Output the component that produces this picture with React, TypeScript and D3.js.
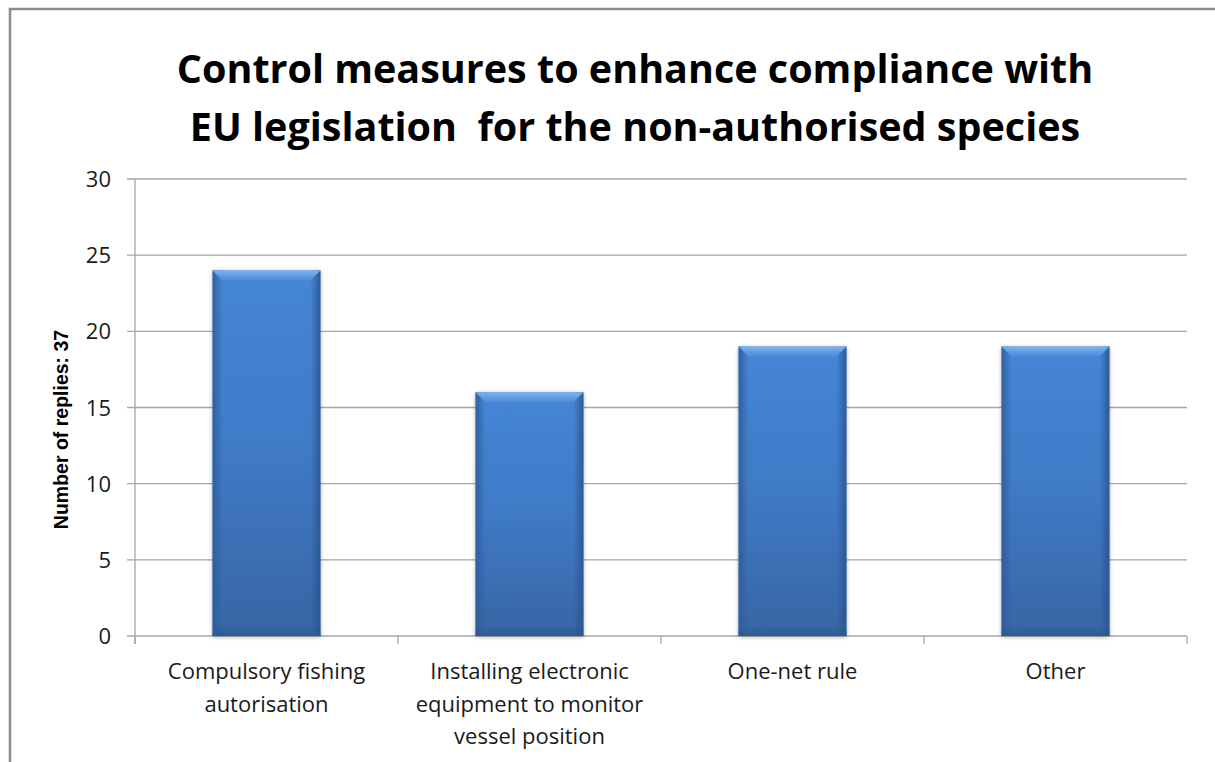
import React from "react";
import * as d3 from "d3";

const categories: string[][] = [
  ["Compulsory fishing", "autorisation"],
  ["Installing electronic", "equipment to monitor", "vessel position"],
  ["One-net rule"],
  ["Other"],
];
const values: number[] = [24, 16, 19, 19];
const yTicks: number[] = [0, 5, 10, 15, 20, 25, 30];
const titleLines: string[] = [
  "Control measures to enhance compliance with",
  "EU legislation  for the non-authorised species",
];
const yLabel = "Number of replies: 37";

const W = 1215;
const H = 762;
const plot = { left: 135, right: 1187, top: 179, bottom: 636 };
const FONT = "'Open Sans', 'Noto Sans', sans-serif";

export default function App() {
  const x = d3
    .scaleBand<number>()
    .domain(d3.range(values.length))
    .range([plot.left, plot.right])
    .paddingInner(0)
    .paddingOuter(0);
  const y = d3.scaleLinear().domain([0, 30]).range([plot.bottom, plot.top]);
  const barW = x.bandwidth() * 0.41;
  const bev = 10;

  return (
    <svg
      width={W}
      height={H}
      style={{ position: "absolute", left: 0, top: 0, background: "#fff" }}
    >
      <defs>
        <linearGradient id="barFill" x1="0" y1="0" x2="0" y2="1">
          <stop offset="0" stopColor="#4586d6" />
          <stop offset="0.5" stopColor="#3f7ac6" />
          <stop offset="1" stopColor="#3765a4" />
        </linearGradient>
        <linearGradient id="sideL" x1="0" y1="0" x2="1" y2="0">
          <stop offset="0" stopColor="#2f5c98" stopOpacity="0.9" />
          <stop offset="1" stopColor="#2f5c98" stopOpacity="0" />
        </linearGradient>
        <linearGradient id="sideR" x1="1" y1="0" x2="0" y2="0">
          <stop offset="0" stopColor="#2a5590" stopOpacity="0.9" />
          <stop offset="1" stopColor="#2a5590" stopOpacity="0" />
        </linearGradient>
        <linearGradient id="sideB" x1="0" y1="1" x2="0" y2="0">
          <stop offset="0" stopColor="#2c568e" stopOpacity="0.8" />
          <stop offset="1" stopColor="#2c568e" stopOpacity="0" />
        </linearGradient>
        <linearGradient id="topBevel" x1="0" y1="0" x2="0" y2="1">
          <stop offset="0" stopColor="#7fb2ee" />
          <stop offset="1" stopColor="#4a8ad8" />
        </linearGradient>
        <filter id="shadow" x="-20%" y="-10%" width="140%" height="120%">
          <feGaussianBlur in="SourceAlpha" stdDeviation="2" />
          <feOffset dx="0" dy="1" result="b" />
          <feComponentTransfer>
            <feFuncA type="linear" slope="0.35" />
          </feComponentTransfer>
          <feMerge>
            <feMergeNode />
            <feMergeNode in="SourceGraphic" />
          </feMerge>
        </filter>
      </defs>

      {/* outer chart frame */}
      <rect
        x={10}
        y={9}
        width={W + 20}
        height={H + 20}
        fill="#fff"
        stroke="#8c8c8c"
        strokeWidth={2.5}
      />

      {/* title */}
      <g
        fontFamily={FONT}
        fontWeight="bold"
        fontSize={39.5}
        fill="#000"
        textAnchor="middle"
        style={{ whiteSpace: "pre" }}
      >
        {titleLines.map((t, i) => (
          <text key={i} x={635} y={83 + i * 58} xmlSpace="preserve">
            {t}
          </text>
        ))}
      </g>

      {/* gridlines */}
      {yTicks.map((t) => (
        <line
          key={t}
          x1={plot.left - 8}
          x2={plot.right}
          y1={y(t)}
          y2={y(t)}
          stroke="#a6a6a6"
          strokeWidth={1.3}
        />
      ))}
      {/* y axis */}
      <line x1={plot.left} x2={plot.left} y1={plot.top} y2={plot.bottom + 8} stroke="#a6a6a6" strokeWidth={1.3} />
      {/* category boundary ticks */}
      {d3.range(values.length + 1).map((i) => {
        const xx = i < values.length ? (x(i) as number) : plot.right;
        return (
          <line key={i} x1={xx} x2={xx} y1={plot.bottom} y2={plot.bottom + 8} stroke="#a6a6a6" strokeWidth={1.3} />
        );
      })}

      {/* y tick labels */}
      <g fontFamily={FONT} fontSize={22} fill="#1a1a1a" textAnchor="end">
        {yTicks.map((t) => (
          <text key={t} x={111} y={y(t) + 8}>
            {t}
          </text>
        ))}
      </g>

      {/* y axis title */}
      <text
        transform={`translate(68, ${(plot.top + plot.bottom) / 2 + 22}) rotate(-90)`}
        textAnchor="middle"
        fontFamily="'Liberation Sans', Arial, sans-serif"
        fontWeight="bold"
        fontSize={19.5}
        fill="#000"
      >
        {yLabel}
      </text>

      {/* bars */}
      {values.map((v, i) => {
        const cx = (x(i) as number) + x.bandwidth() / 2;
        const x0 = cx - barW / 2;
        const x1 = cx + barW / 2;
        const y0 = y(v);
        const y1 = y(0);
        const h = y1 - y0;
        return (
          <g key={i}>
            <rect x={x0} y={y0} width={barW} height={h} fill="url(#barFill)" filter="url(#shadow)" />
            <rect x={x0} y={y0} width={bev} height={h} fill="url(#sideL)" />
            <rect x={x1 - bev} y={y0} width={bev} height={h} fill="url(#sideR)" />
            <rect x={x0} y={y1 - bev} width={barW} height={bev} fill="url(#sideB)" />
            <path
              d={`M${x0},${y0} L${x1},${y0} L${x1 - bev},${y0 + bev} L${x0 + bev},${y0 + bev} Z`}
              fill="url(#topBevel)"
            />
          </g>
        );
      })}

      {/* category labels */}
      <g fontFamily={FONT} fontSize={22} fill="#1a1a1a" textAnchor="middle">
        {categories.map((lines, i) => {
          const cx = (x(i) as number) + x.bandwidth() / 2;
          return (
            <text key={i} x={cx} y={679}>
              {lines.map((l, j) => (
                <tspan key={j} x={cx} dy={j === 0 ? 0 : 32.5}>
                  {l}
                </tspan>
              ))}
            </text>
          );
        })}
      </g>
    </svg>
  );
}
